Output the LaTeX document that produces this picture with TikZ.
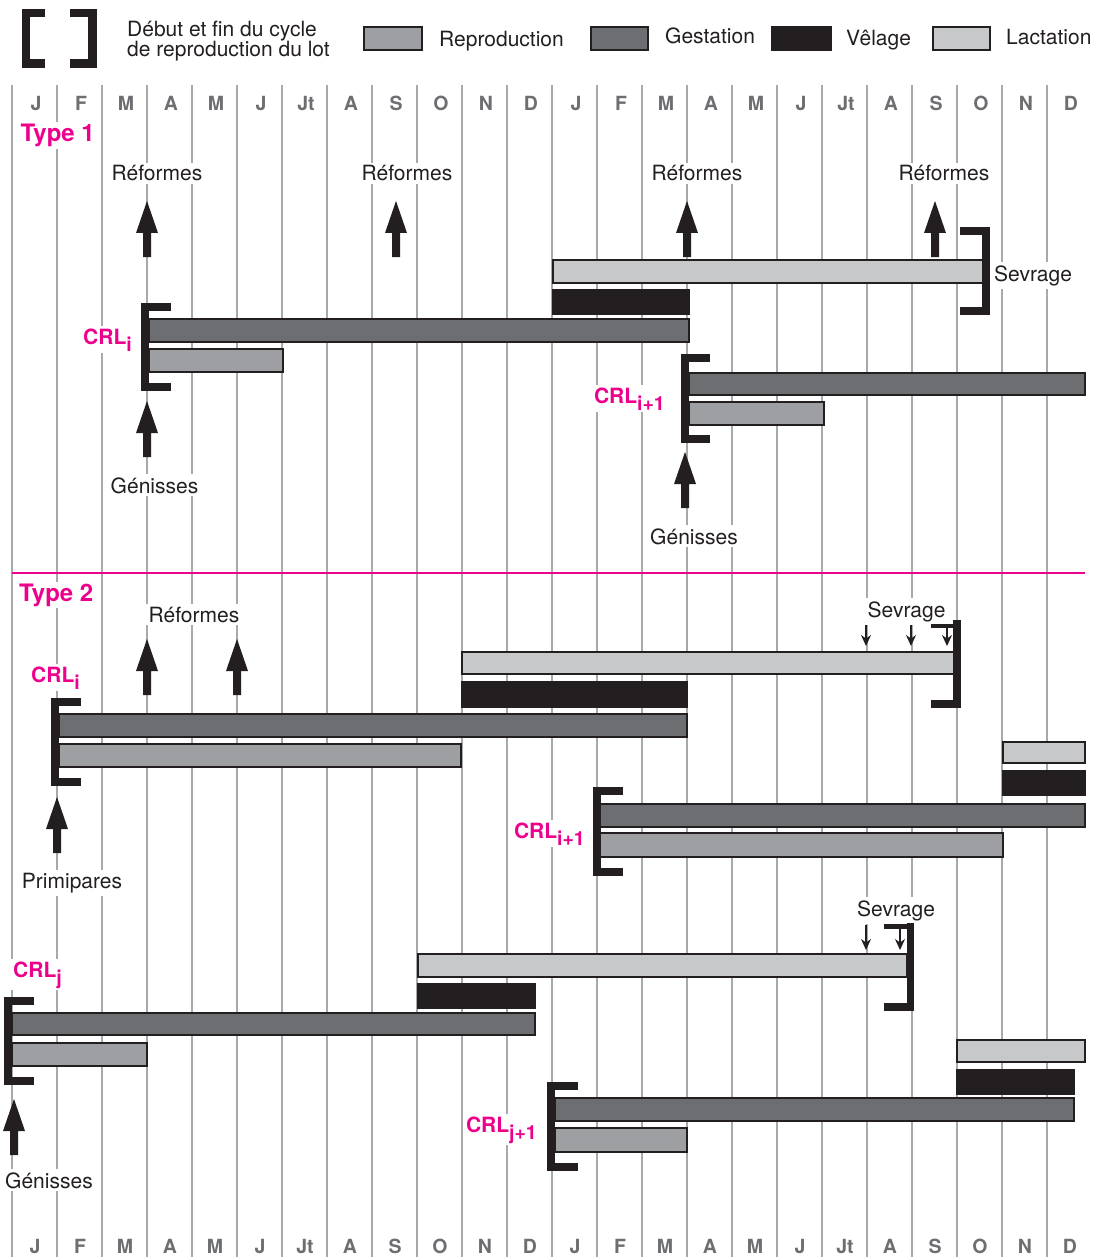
\documentclass[tikz,border=0pt]{standalone}
\usepackage{fontspec}
\setmainfont{TeX Gyre Heros}
\usetikzlibrary{arrows.meta}
\definecolor{ink}{HTML}{231F20}
\definecolor{reproc}{HTML}{9D9FA2}
\definecolor{gestc}{HTML}{6D6E72}
\definecolor{lactc}{HTML}{C7C8CA}
\definecolor{gridc}{HTML}{A7A9AC}
\definecolor{monthc}{HTML}{6D6E71}
\definecolor{pinkc}{HTML}{EC008C}
\newcommand\fs[1]{\fontsize{#1}{#1}\selectfont}
\newcommand\crlsub[1]{\raisebox{-0.34em}{\fs{19.5}#1}}
\newcommand\lbrk[4]{\draw[brk] (#4,#2+4) -- (#1+4,#2+4) -- (#1+4,#3-4) -- (#4,#3-4);}
\newcommand\rbrk[4]{\draw[brk] (#4,#2+4) -- (#1-4,#2+4) -- (#1-4,#3-4) -- (#4,#3-4);}
\tikzset{
  gridline/.style={draw=gridc, line width=1.3pt},
  barbase/.style={draw=ink, line width=1.3pt},
  repro/.style={barbase, fill=reproc},
  gest/.style={barbase, fill=gestc},
  velage/.style={barbase, fill=ink},
  lact/.style={barbase, fill=lactc},
  brk/.style={draw=ink, line width=8pt, line join=miter, line cap=butt},
  lbl/.style={fill=white, inner sep=3pt, text=ink, font=\fs{21}},
  leg/.style={inner sep=0pt, text=ink, font=\fs{21}},
  crl/.style={fill=white, inner sep=2pt, text=pinkc, font=\fs{21}\bfseries},
  typ/.style={fill=white, inner sep=2pt, text=pinkc, font=\fs{24}\bfseries},
  month/.style={text=monthc, font=\fs{19.5}\bfseries, inner sep=0pt},
  smallarr/.style={draw=ink, line width=1.3pt, -{Stealth[length=11pt,width=10pt]}},
  bigup/.pic={\fill[ink] (-4,0) -- (-4,-24) -- (-11,-24) -- (0,-56) -- (11,-24) -- (4,-24) -- (4,0) -- cycle;},
}
\begin{document}
\begin{tikzpicture}[x=1pt,y=-1pt]
\useasboundingbox (0,0) rectangle (1093,1257);
\fill[white] (0,0) rectangle (1093,1257);

% grid
\foreach \k in {0,...,23} \draw[gridline] (12+45*\k,85) -- (12+45*\k,1257);
\foreach \m [count=\i from 0] in {J,F,M,A,M,J,Jt,A,S,O,N,D,J,F,M,A,M,J,Jt,A,S,O,N,D} {
  \node[month, anchor=base] (mt\i) at (36+45*\i,110.5) {\m};
  \node[month, anchor=base] (mb\i) at (35+45*\i,1253) {\m};
}
\draw[pinkc, line width=1.3pt] (12,573) -- (1085,573);

% legend
\draw[brk, line width=8.5pt] (45,13.25) -- (25.75,13.25) -- (25.75,63.75) -- (45,63.75);
\draw[brk, line width=8.5pt] (70,13.25) -- (92.25,13.25) -- (92.25,63.75) -- (70,63.75);
\node[leg, anchor=base west] (leg1) at (127,37) {Début et fin du cycle};
\node[leg, anchor=base west] (leg2) at (127,57) {de reproduction du lot};
\draw[repro] (364,27) rectangle (422,50);
\node[leg, anchor=base west] (legr) at (439,46.5) {Reproduction};
\draw[gest] (591,27) rectangle (648,50);
\node[leg, anchor=base west] (legg) at (665,43.5) {Gestation};
\draw[velage] (772,27) rectangle (831,50);
\node[leg, anchor=base west] (legv) at (846,46) {Vêlage};
\draw[lact] (933,27) rectangle (990,50);
\node[leg, anchor=base west] (legl) at (1006,45) {Lactation};

% labels
\node[typ, anchor=base west] (type1) at (18.5,141.5) {Type 1};
\node[typ, anchor=base west] (type2) at (17,601) {Type 2};
\node[lbl, anchor=base] (ref1) at (157,181) {Réformes};
\node[lbl, anchor=base] (ref2) at (407,181) {Réformes};
\node[lbl, anchor=base] (ref3) at (697,181) {Réformes};
\node[lbl, anchor=base] (ref4) at (944,181) {Réformes};
\node[lbl, anchor=base] (ref5) at (194,622) {Réformes};
\node[lbl, anchor=base] (gen1) at (154.5,493) {Génisses};
\node[lbl, anchor=base] (gen2) at (694,544) {Génisses};
\node[lbl, anchor=base] (gen3) at (49,1188) {Génisses};
\node[lbl, anchor=base] (prim) at (72,888) {Primipares};
\node[lbl, anchor=base west] (sev1) at (991,281) {Sevrage};
\node[lbl, anchor=base] (sev2) at (906.5,617) {Sevrage};
\node[lbl, anchor=base] (sev3) at (896,916) {Sevrage};
\node[crl, anchor=base east] (crl1) at (134,344) {CRL\crlsub{i}};
\node[crl, anchor=base east] (crl2) at (667,403) {CRL\crlsub{i+1}};
\node[crl, anchor=base east] (crl3) at (82,682) {CRL\crlsub{i}};
\node[crl, anchor=base east] (crl4) at (587,838) {CRL\crlsub{i+1}};
\node[crl, anchor=base east] (crl5) at (64,977) {CRL\crlsub{j}};
\node[crl, anchor=base east] (crl6) at (539,1132) {CRL\crlsub{j+1}};

% Type 1 bars
\draw[lact] (553,260) rectangle (983,283);
\draw[velage] (553,290) rectangle (689,314);
\draw[gest] (149,319) rectangle (689,342);
\draw[repro] (149,349) rectangle (283,372);
\draw[gest] (689,373) rectangle (1085,395);
\draw[repro] (689,402) rectangle (824,425);
\lbrk{141}{303}{391}{171}
\rbrk{990}{227}{315}{960}
\lbrk{681}{354}{443}{710}

% Type 2 bars
\draw[lact] (462,652) rectangle (955,674);
\draw[velage] (462,682) rectangle (687,707);
\draw[gest] (59,714) rectangle (687,737);
\draw[repro] (59,744) rectangle (461,767);
\draw[lact] (1003,742) rectangle (1085,763);
\draw[velage] (1003,771) rectangle (1085,795);
\draw[gest] (600,804) rectangle (1085,827);
\draw[repro] (600,833) rectangle (1003,857);
\lbrk{51}{698}{786}{81}
\lbrk{593}{787}{876}{623}
\draw[brk] (957,620) -- (957,704) -- (931,704);
\draw[ink, line width=4pt] (931,626) -- (957,626);

% lower group bars
\draw[lact] (418,954) rectangle (907,977);
\draw[velage] (418,984) rectangle (535,1008);
\draw[gest] (12,1013) rectangle (535,1035);
\draw[repro] (12,1043) rectangle (147,1066);
\draw[lact] (957,1040) rectangle (1085,1062);
\draw[velage] (957,1070) rectangle (1074,1094);
\draw[gest] (555,1098) rectangle (1074,1121);
\draw[repro] (555,1128) rectangle (687,1152);
\lbrk{4}{997}{1085}{34}
\lbrk{547}{1082}{1171}{578}
\draw[brk, line width=7.5pt] (910.5,923) -- (910.5,1007) -- (884,1007);
\draw[ink, line width=5pt] (884,926) -- (910.5,926);

% big arrows
\foreach \n/\x/\y in {a1/147/257, a2/396/257, a3/687/257, a4/935/257, a5/147/457, a6/685/508, a7/147/695, a8/237/695, a9/57/853, a10/14/1155} {
  \coordinate (\n) at (\x,\y);
  \pic at (\n) {bigup};
}

% small sevrage arrows
\foreach \n/\x in {s1/866, s2/911, s3/947} {
  \coordinate (\n top) at (\x,625);
  \coordinate (\n tip) at (\x,646);
  \draw[smallarr] (\n top) -- (\n tip);
}
\foreach \n/\x in {t1/866, t2/900} {
  \coordinate (\n top) at (\x,925);
  \coordinate (\n tip) at (\x,950);
  \draw[smallarr] (\n top) -- (\n tip);
}
\end{tikzpicture}
\end{document}
